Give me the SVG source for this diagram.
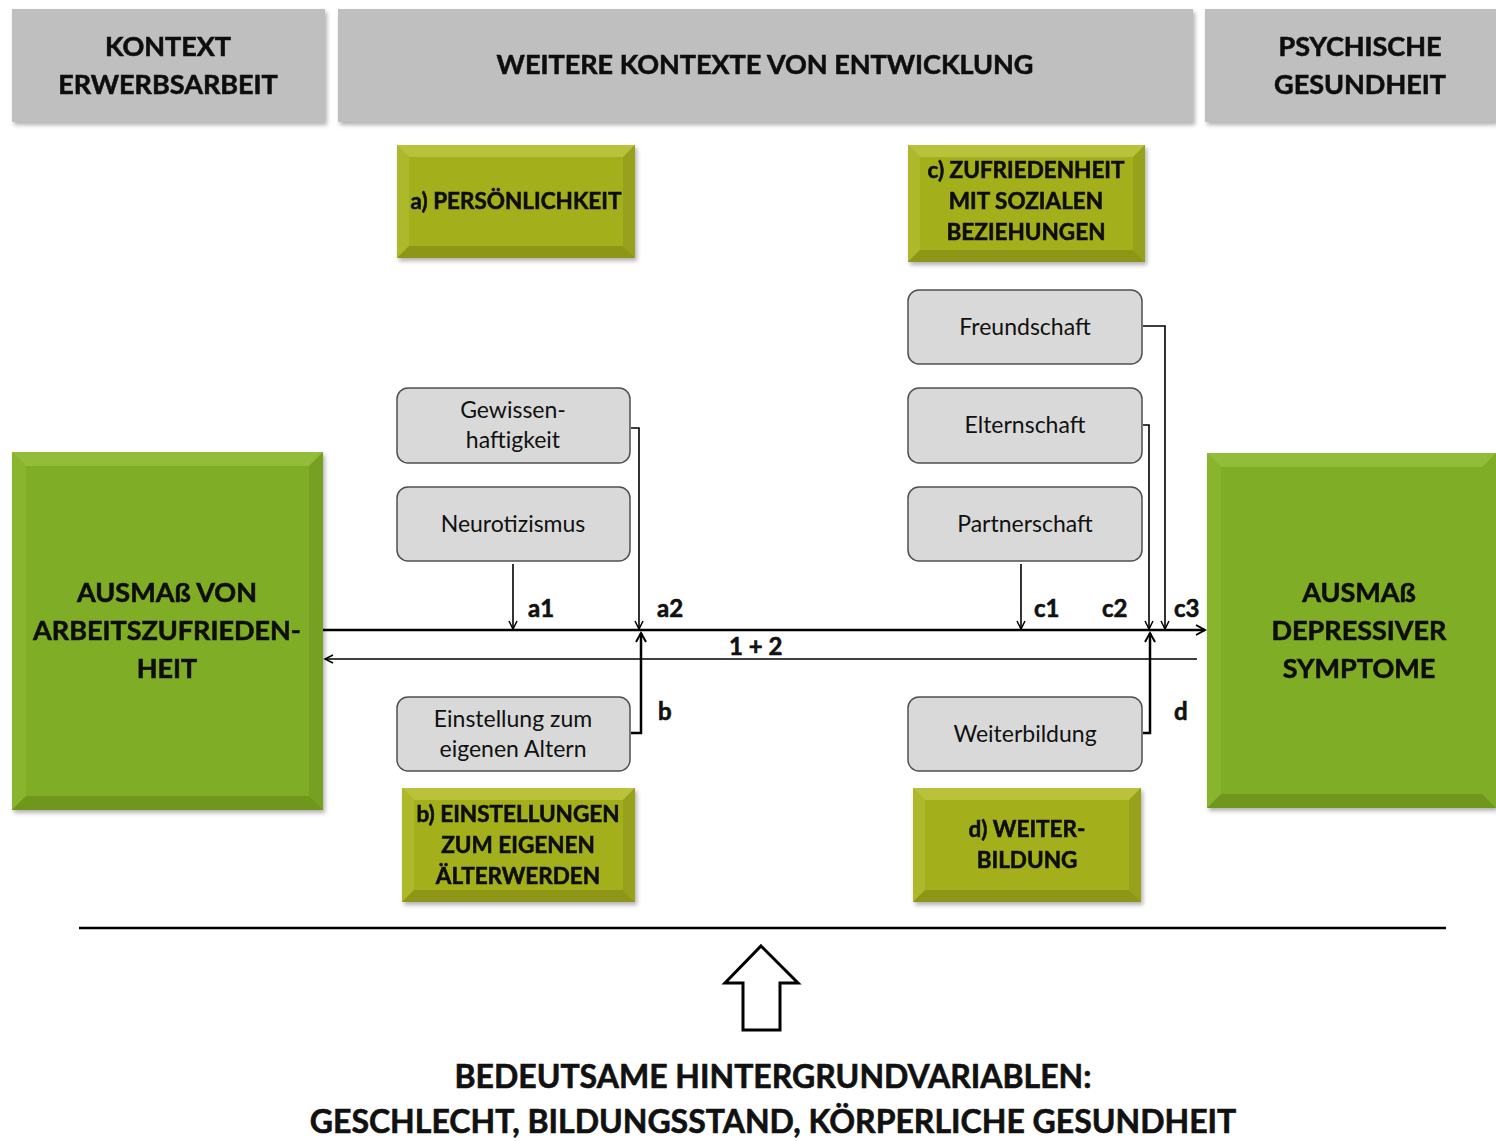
<svg xmlns="http://www.w3.org/2000/svg" width="1496" height="1141" viewBox="0 0 1496 1141">
  <defs>
    <filter id="shadow" x="-5%" y="-5%" width="115%" height="115%">
      <feDropShadow dx="2" dy="3" stdDeviation="2" flood-color="#000" flood-opacity="0.3"/>
    </filter>
    <marker id="arrow" markerWidth="12" markerHeight="12" refX="10" refY="6" orient="auto" markerUnits="userSpaceOnUse">
      <path d="M1,1 L10,6 L1,11" fill="none" stroke="#000" stroke-width="2"/>
    </marker>
    <marker id="arrowSmall" markerWidth="12" markerHeight="12" refX="10" refY="6" orient="auto" markerUnits="userSpaceOnUse">
      <path d="M2,2 L10,6 L2,10" fill="none" stroke="#000" stroke-width="1.5"/>
    </marker>
  </defs>
  <style>
    text { font-family: Lato, "Open Sans", "Liberation Sans", sans-serif; fill: #111; text-anchor: middle; }
    .head { fill: #bfbfbf; }
    .hdr, .olv, .big, .lbl, .bottom { font-weight: bold; stroke: #111; stroke-width: 0.6; }
    .hdr { font-size: 27px; }
    .olive { fill: #a4af1f; }
    .olive-t { fill: #b8c23a; }
    .olive-l { fill: #adb82c; }
    .olive-r { fill: #97a11a; }
    .olive-b { fill: #8d9617; }
    .green { fill: #80ad26; }
    .green-t { fill: #92bd3a; }
    .green-l { fill: #88b42f; }
    .green-r { fill: #76a022; }
    .green-b { fill: #6f961f; }
    .olv { font-size: 22.5px; }
    .big { font-size: 27px; }
    .var { fill: #d9d9d9; stroke: #505050; stroke-width: 1.5; }
    .vt { font-size: 23px; }
    .lbl { font-size: 24px; text-anchor: start; }
    .bottom { font-size: 32px; }
    .line { fill: none; stroke: #000; stroke-width: 1.6; }
    .main { fill: none; stroke: #000; stroke-width: 2.5; }
  </style>

  <!-- header row -->
  <g id="hdr-work" filter="url(#shadow)">
    <rect class="head" x="12" y="9" width="313" height="113"/>
    <text class="hdr" x="168" y="56">KONTEXT</text>
    <text class="hdr" x="168" y="94">ERWERBSARBEIT</text>
  </g>
  <g id="hdr-context" filter="url(#shadow)">
    <rect class="head" x="338" y="9" width="855" height="113"/>
    <text class="hdr" x="765" y="74">WEITERE KONTEXTE VON ENTWICKLUNG</text>
  </g>
  <g id="hdr-health" filter="url(#shadow)">
    <rect class="head" x="1205" y="9" width="291" height="113"/>
    <text class="hdr" x="1360" y="56">PSYCHISCHE</text>
    <text class="hdr" x="1360" y="94">GESUNDHEIT</text>
  </g>

  <!-- olive category boxes -->
  <g id="cat-a" filter="url(#shadow)">
    <rect class="olive" x="397" y="145" width="238" height="113"/>
    <polygon class="olive-t" points="397,145 635,145 623,157 409,157"/>
    <polygon class="olive-l" points="397,145 409,157 409,246 397,258"/>
    <polygon class="olive-r" points="635,145 635,258 623,246 623,157"/>
    <polygon class="olive-b" points="397,258 409,246 623,246 635,258"/>
    <text class="olv" x="516" y="209">a) PERSÖNLICHKEIT</text>
  </g>
  <g id="cat-c" filter="url(#shadow)">
    <rect class="olive" x="908" y="145" width="237" height="117"/>
    <polygon class="olive-t" points="908,145 1145,145 1133,157 920,157"/>
    <polygon class="olive-l" points="908,145 920,157 920,250 908,262"/>
    <polygon class="olive-r" points="1145,145 1145,262 1133,250 1133,157"/>
    <polygon class="olive-b" points="908,262 920,250 1133,250 1145,262"/>
    <text class="olv" x="1026" y="178">c) ZUFRIEDENHEIT</text>
    <text class="olv" x="1026" y="209">MIT SOZIALEN</text>
    <text class="olv" x="1026" y="240">BEZIEHUNGEN</text>
  </g>
  <g id="cat-b" filter="url(#shadow)">
    <rect class="olive" x="402" y="788" width="233" height="114"/>
    <polygon class="olive-t" points="402,788 635,788 623,800 414,800"/>
    <polygon class="olive-l" points="402,788 414,800 414,890 402,902"/>
    <polygon class="olive-r" points="635,788 635,902 623,890 623,800"/>
    <polygon class="olive-b" points="402,902 414,890 623,890 635,902"/>
    <text class="olv" x="518" y="822">b) EINSTELLUNGEN</text>
    <text class="olv" x="518" y="853">ZUM EIGENEN</text>
    <text class="olv" x="518" y="884">ÄLTERWERDEN</text>
  </g>
  <g id="cat-d" filter="url(#shadow)">
    <rect class="olive" x="913" y="788" width="228" height="114"/>
    <polygon class="olive-t" points="913,788 1141,788 1129,800 925,800"/>
    <polygon class="olive-l" points="913,788 925,800 925,890 913,902"/>
    <polygon class="olive-r" points="1141,788 1141,902 1129,890 1129,800"/>
    <polygon class="olive-b" points="913,902 925,890 1129,890 1141,902"/>
    <text class="olv" x="1027" y="837">d) WEITER-</text>
    <text class="olv" x="1027" y="868">BILDUNG</text>
  </g>

  <!-- main constructs -->
  <g id="job-satisfaction" filter="url(#shadow)">
    <rect class="green" x="12" y="452" width="311" height="358"/>
    <polygon class="green-t" points="12,452 323,452 309,466 26,466"/>
    <polygon class="green-l" points="12,452 26,466 26,796 12,810"/>
    <polygon class="green-r" points="323,452 323,810 309,796 309,466"/>
    <polygon class="green-b" points="12,810 26,796 309,796 323,810"/>
    <text class="big" x="167" y="602">AUSMAß VON</text>
    <text class="big" x="167" y="640">ARBEITSZUFRIEDEN-</text>
    <text class="big" x="167" y="678">HEIT</text>
  </g>
  <g id="depressive-symptoms" filter="url(#shadow)">
    <rect class="green" x="1207" y="453" width="289" height="355"/>
    <polygon class="green-t" points="1207,453 1496,453 1482,467 1221,467"/>
    <polygon class="green-l" points="1207,453 1221,467 1221,794 1207,808"/>
    <polygon class="green-b" points="1207,808 1221,794 1482,794 1496,808"/>
    <text class="big" x="1359" y="602">AUSMAß</text>
    <text class="big" x="1359" y="640">DEPRESSIVER</text>
    <text class="big" x="1359" y="678">SYMPTOME</text>
  </g>

  <!-- variable boxes -->
  <g id="gewissenhaftigkeit">
    <rect class="var" x="397" y="388" width="233" height="75" rx="11"/>
    <text class="vt" x="513" y="418">Gewissen-</text>
    <text class="vt" x="513" y="448">haftigkeit</text>
  </g>
  <g id="neurotizismus">
    <rect class="var" x="397" y="487" width="233" height="74" rx="11"/>
    <text class="vt" x="513" y="532">Neurotizismus</text>
  </g>
  <g id="einstellung">
    <rect class="var" x="397" y="697" width="233" height="74" rx="11"/>
    <text class="vt" x="513" y="727">Einstellung zum</text>
    <text class="vt" x="513" y="757">eigenen Altern</text>
  </g>
  <g id="freundschaft">
    <rect class="var" x="908" y="290" width="234" height="74" rx="11"/>
    <text class="vt" x="1025" y="335">Freundschaft</text>
  </g>
  <g id="elternschaft">
    <rect class="var" x="908" y="388" width="234" height="75" rx="11"/>
    <text class="vt" x="1025" y="433">Elternschaft</text>
  </g>
  <g id="partnerschaft">
    <rect class="var" x="908" y="487" width="234" height="74" rx="11"/>
    <text class="vt" x="1025" y="532">Partnerschaft</text>
  </g>
  <g id="weiterbildung">
    <rect class="var" x="908" y="697" width="234" height="74" rx="11"/>
    <text class="vt" x="1025" y="742">Weiterbildung</text>
  </g>

  <!-- connectors -->
  <g id="connectors">
    <line class="main" x1="323" y1="630" x2="1205" y2="630" marker-end="url(#arrow)"/>
    <line class="line" x1="1197" y1="659" x2="325" y2="659" marker-end="url(#arrowSmall)"/>
    <line class="line" x1="513" y1="564" x2="513" y2="629" marker-end="url(#arrowSmall)"/>
    <polyline class="line" points="631,428 639,428 639,629" marker-end="url(#arrowSmall)"/>
    <polyline class="main" points="631,733 641,733 641,633" marker-end="url(#arrow)"/>
    <line class="line" x1="1021" y1="564" x2="1021" y2="629" marker-end="url(#arrowSmall)"/>
    <polyline class="line" points="1143,425 1149,425 1149,629" marker-end="url(#arrowSmall)"/>
    <polyline class="line" points="1143,326 1165,326 1165,629" marker-end="url(#arrowSmall)"/>
    <polyline class="main" points="1143,733 1150,733 1150,633" marker-end="url(#arrow)"/>
  </g>

  <!-- path labels -->
  <g id="path-labels">
    <text class="lbl" x="528" y="617">a1</text>
    <text class="lbl" x="657" y="617">a2</text>
    <text class="lbl" x="658" y="720">b</text>
    <text class="lbl" x="1034" y="617">c1</text>
    <text class="lbl" x="1102" y="617">c2</text>
    <text class="lbl" x="1174" y="617">c3</text>
    <text class="lbl" x="1174" y="720">d</text>
    <text class="lbl" x="729" y="655">1 + 2</text>
  </g>

  <!-- background variables -->
  <g id="background">
    <line x1="79" y1="928" x2="1446" y2="928" stroke="#000" stroke-width="2.5"/>
    <polygon points="761,946 798,983 780,983 780,1030 743,1030 743,983 725,983" fill="#fff" stroke="#000" stroke-width="3" stroke-linejoin="miter"/>
    <text class="bottom" x="773" y="1088">BEDEUTSAME HINTERGRUNDVARIABLEN:</text>
    <text class="bottom" x="773" y="1133">GESCHLECHT, BILDUNGSSTAND, KÖRPERLICHE GESUNDHEIT</text>
  </g>
</svg>
